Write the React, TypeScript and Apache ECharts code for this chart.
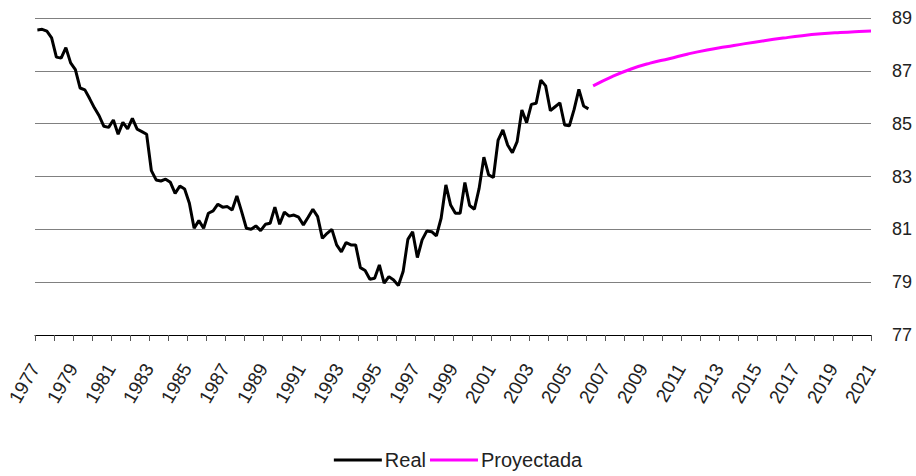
import React, { useEffect, useRef } from "react";
import * as echarts from "echarts";

// Quarterly data, first value = 1977 Q1 (plotted at mid-quarter)
const realStartYear = 1977;
const realValues = [
  88.55, 88.57, 88.5, 88.25, 87.52, 87.48, 87.88, 87.3, 87.05, 86.35,
  86.28, 85.95, 85.6, 85.3, 84.9, 84.86, 85.14, 84.6, 85.05, 84.8,
  85.2, 84.79, 84.7, 84.6, 83.22, 82.87, 82.83, 82.9, 82.78, 82.36,
  82.64, 82.53, 81.99, 81.04, 81.33, 81.04, 81.61, 81.7, 81.95, 81.84,
  81.86, 81.73, 82.26, 81.67, 81.04, 81.0, 81.13, 80.95, 81.19, 81.23,
  81.84, 81.19, 81.65, 81.5, 81.54, 81.46, 81.17, 81.46, 81.76, 81.48,
  80.66, 80.85, 81.0, 80.41, 80.15, 80.5, 80.41, 80.41, 79.55, 79.44,
  79.11, 79.15, 79.65, 78.96, 79.21, 79.08, 78.87, 79.4, 80.62, 80.91,
  79.93, 80.6, 80.94, 80.91, 80.75, 81.42, 82.68, 81.92, 81.61, 81.61,
  82.77, 81.9, 81.76, 82.55, 83.73, 83.06, 82.96, 84.38, 84.76, 84.19,
  83.9, 84.32, 85.52, 85.04, 85.73, 85.77, 86.65, 86.43, 85.49, 85.64,
  85.79, 84.95, 84.92, 85.54, 86.3, 85.67, 85.56,
];

// Projection, yearly points
const projYears = [
  2006.375, 2007.375, 2008.375, 2009.375, 2010.375, 2011.375, 2012.375,
  2013.375, 2014.375, 2015.375, 2016.375, 2017.375, 2018.375, 2019.375,
  2020.375, 2021,
];
const projValues = [
  86.43, 86.78, 87.07, 87.29, 87.46, 87.64, 87.79, 87.91, 88.03, 88.14,
  88.24, 88.33, 88.4, 88.45, 88.49, 88.51,
];

const xMin = 1977;
const xMax = 2021;
const yMin = 77;
const yMax = 89;
const yStep = 2;

const FONT = "Liberation Sans, Arial, sans-serif";

export default function App() {
  const ref = useRef<HTMLDivElement>(null);

  useEffect(() => {
    document.body.style.margin = "0";
    if (!ref.current) return;
    const chart = echarts.init(ref.current, null, { renderer: "svg" });

    const realData = realValues.map((v, i) => [
      realStartYear + (i + 0.5) / 4,
      v,
    ]);
    const projData = projValues.map((v, i) => [projYears[i], v]);

    chart.setOption({
      animation: false,
      backgroundColor: "#ffffff",
      grid: { left: 35, right: 45, top: 18, bottom: 141, containLabel: false },
      legend: {
        top: 445,
        left: "center",
        itemWidth: 48,
        itemHeight: 3,
        itemGap: 4,
        icon: "rect",
        textStyle: { fontFamily: FONT, fontSize: 20, color: "#222", padding: [0, 0, 0, -2] },
        data: ["Real", "Proyectada"],
      },
      xAxis: {
        type: "value",
        min: xMin,
        max: xMax,
        interval: 1,
        axisLine: { show: true, lineStyle: { color: "#000", width: 1 } },
        axisTick: { show: true, length: 6, lineStyle: { color: "#555" } },
        splitLine: { show: false },
        axisLabel: {
          rotate: 60,
          margin: 30,
          fontFamily: FONT,
          fontSize: 19,
          color: "#222",
          showMinLabel: true,
          showMaxLabel: true,
          formatter: (v: number) => (Math.round(v) % 2 === 1 ? String(Math.round(v)) : ""),
        },
      },
      yAxis: {
        type: "value",
        position: "right",
        min: yMin,
        max: yMax,
        interval: yStep,
        axisLine: { show: false },
        axisTick: { show: false },
        splitLine: { show: true, lineStyle: { color: "#808080", width: 1 } },
        axisLabel: {
          margin: 21,
          fontFamily: FONT,
          fontSize: 18,
          color: "#222",
        },
      },
      series: [
        {
          name: "Real",
          type: "line",
          data: realData,
          showSymbol: false,
          symbol: "none",
          lineStyle: { color: "#000000", width: 3 },
          itemStyle: { color: "#000000" },
        },
        {
          name: "Proyectada",
          type: "line",
          data: projData,
          smooth: true,
          showSymbol: false,
          symbol: "none",
          lineStyle: { color: "#ff00ff", width: 3 },
          itemStyle: { color: "#ff00ff" },
        },
      ],
    });

    return () => chart.dispose();
  }, []);

  return <div ref={ref} style={{ width: 916, height: 476 }} />;
}
